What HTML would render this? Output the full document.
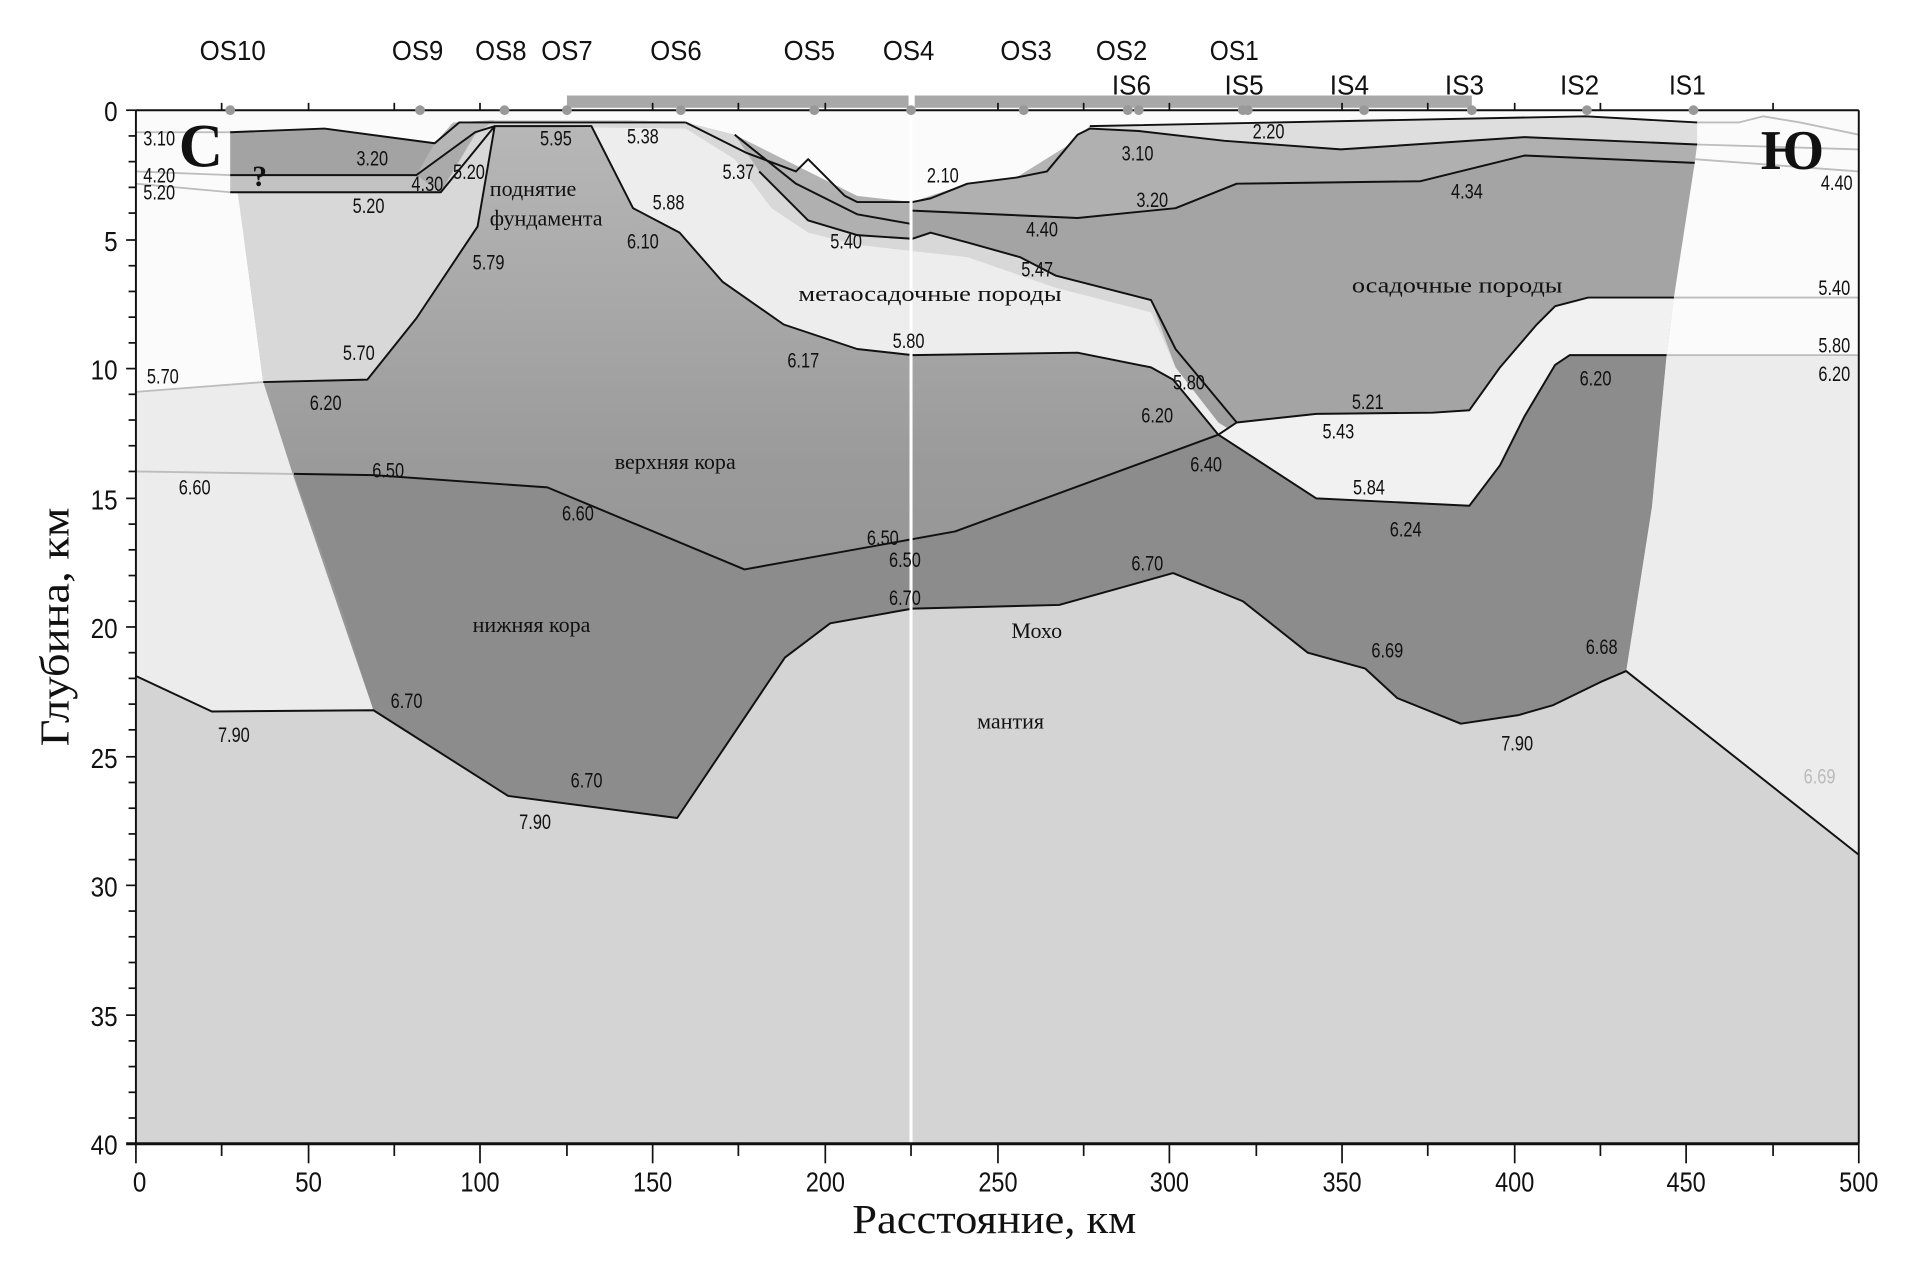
<!DOCTYPE html>
<html><head><meta charset="utf-8"><style>
html,body{margin:0;padding:0;background:#fff;}
svg{display:block;}
.n{font-family:"Liberation Sans",sans-serif;font-size:17px;fill:#111;}
.r{font-family:"Liberation Serif",serif;font-size:18px;fill:#111;}
.st{font-family:"Liberation Sans",sans-serif;font-size:23px;fill:#111;text-anchor:middle;}
.tk{font-family:"Liberation Sans",sans-serif;font-size:23px;fill:#111;}
</style></head><body>
<svg width="1920" height="1263" viewBox="0 0 1568 1031.4" preserveAspectRatio="none" xmlns="http://www.w3.org/2000/svg">
<defs>
<linearGradient id="cr" x1="0" y1="0" x2="0" y2="1">
<stop offset="0" stop-color="#b8b8b8"/><stop offset="0.5" stop-color="#9a9a9a"/><stop offset="1" stop-color="#8e8e8e"/>
</linearGradient>
</defs>
<rect x="0" y="0" width="1568" height="1031.4" fill="#fff"/>
<rect x="111" y="90" width="1407" height="844" fill="#ececec"/>
<polygon points="111,90 1518,90 1518,290 1361,290 1340,450 215,312 111,320" fill="#fbfbfb"/>
<polygon points="188,105 200,200 215,312 240,390 305,580 415,650 553,668 641,537 678,509 745,497 865,494 958,468 1015,491 1068,533 1115,546 1141,570 1193,591 1240,584 1268,576 1307,557 1328,548 1349,414 1361,290 1367,243 1386,100 1295,95 890,103 870,120 830,145 790,150 760,160 745,165 700,160 650,135 600,110 560,100 510,98 404,98 370,100 355,117 265,105 188,108" fill="url(#cr)"/>
<polygon points="240,387 305,388 447,398 608,465 780,434 995,355 1075,407 1200,413 1225,380 1245,340 1270,298 1282,290 1361,290 1349,414 1328,548 1307,557 1268,576 1240,584 1193,591 1141,570 1115,546 1068,533 1015,491 958,468 865,494 745,497 678,509 641,537 553,668 415,650 305,580 280,500" fill="#8c8c8c"/>
<polygon points="215,312 300,310 340,260 390,185 404,103 483,103 517,170 555,190 590,230 640,265 700,285 745,290 880,288 940,300 958,310 995,355 1010,345 1075,338 1170,337 1200,335 1225,300 1255,265 1270,250 1297,243 1367,243 1361,290 1282,290 1270,298 1245,340 1225,380 1200,413 1075,407 995,355 960,300 940,245 862,225 833,210 790,198 760,190 745,195 700,192 660,180 640,160 600,110 560,100 510,98 404,98 388,110 360,157 194,157 200,200" fill="#d8d8d8"/>
<polygon points="404,103 483,103 517,170 555,190 590,230 640,265 700,285 745,290 880,288 940,300 958,310 995,355 1010,345 1075,338 1170,337 1200,335 1225,300 1255,265 1270,250 1297,243 1367,243 1365,260 1297,260 1270,268 1250,290 1230,320 1210,360 1200,400 1075,395 995,345 960,300 940,255 862,235 790,210 745,205 700,200 660,190 630,170 600,130 560,105" fill="#ededed"/>
<polygon points="995,355 1010,345 1075,338 1170,337 1200,335 1225,300 1255,265 1270,250 1297,243 1367,243 1361,290 1282,290 1270,298 1245,340 1225,380 1200,413 1075,407" fill="#f1f1f1"/>
<polygon points="188,108 265,105 355,117 340,143 188,143" fill="#a3a3a3"/>
<polygon points="188,143 340,143 360,157 188,157" fill="#c2c2c2"/>
<polygon points="340,143 388,108 360,157" fill="#aaaaaa"/>
<polygon points="745,165 760,162 790,150 830,145 855,140 880,110 890,105 930,107 1000,115 1095,122 1245,112 1386,118 1384,133 1245,127 1160,148 1010,150 960,170 880,178 745,172" fill="#b0b0b0"/>
<polygon points="745,172 880,178 960,170 1010,150 1160,148 1245,127 1384,133 1367,243 1297,243 1270,250 1255,265 1225,300 1200,335 1170,337 1075,338 1010,345 960,285 940,245 862,225 833,210 790,198 760,190 745,195" fill="#a4a4a4"/>
<polygon points="890,103 1295,95 1386,100 1386,118 1245,112 1095,122 1000,115 930,107 890,105" fill="#dedede"/>
<polygon points="600,110 650,150 700,175 745,183 745,195 700,192 660,180 620,140" fill="#b0b0b0"/>
<polygon points="111,552 173,581 305,580 415,650 553,668 641,537 678,509 745,497 865,494 958,468 1015,491 1068,533 1115,546 1141,570 1193,591 1240,584 1268,576 1307,557 1328,548 1518,698 1518,934 111,934" fill="#d4d4d4"/>
<g stroke="#bdbdbd" stroke-width="1.5" fill="none">
<polyline points="111,320 215,312"/><polyline points="111,385 240,387"/>
<polyline points="1367,243 1518,243"/><polyline points="1361,290 1518,290"/>
<polyline points="1384,130 1518,140"/><polyline points="1386,118 1518,122"/>
<polyline points="1383,100 1420,100 1440,95 1470,100 1518,110"/>
<polyline points="111,108 188,108"/><polyline points="111,140 188,143"/><polyline points="111,150 188,157"/>
</g>
<g stroke="#111" stroke-width="1.6" fill="none" stroke-linejoin="round">
<polyline points="111,552 173,581 305,580 415,650 553,668 641,537 678,509 745,497 865,494 958,468 1015,491 1068,533 1115,546 1141,570 1193,591 1240,584 1268,576 1307,557 1328,548 1518,698"/>
<polyline points="240,387 305,388 447,398 608,465 780,434 995,355 1075,407 1200,413 1225,380 1245,340 1270,298 1282,290 1361,290"/>
<polyline points="215,312 300,310 340,260 390,185 404,103 483,103 517,170 555,190 590,230 640,265 700,285 745,290 880,288 940,300 958,310 995,355"/>
<polyline points="995,355 1010,345 1075,338 1170,337 1200,335 1225,300 1255,265 1270,250 1297,243 1367,243"/>
<polyline points="745,195 760,190 790,198 833,210 862,225 940,245 960,285 1010,345"/>
<polyline points="745,172 880,178 960,170 1010,150 1160,148 1245,127 1384,133"/>
<polyline points="745,165 760,162 790,150 830,145 855,140 880,110 890,105 930,107 1000,115 1095,122 1245,112 1386,118"/>
<polyline points="890,103 1295,95 1386,100"/>
<polyline points="600,110 650,150 700,175 745,183"/>
<polyline points="560,100 610,125 650,140 660,130 690,160 700,165 745,165"/>
<polyline points="620,140 660,180 700,192 745,195"/>
<polyline points="188,108 265,105 355,117 375,100 560,100"/>
<polyline points="188,143 340,143 388,108 404,103"/>
<polyline points="188,157 360,157 404,103"/>
</g>
<line x1="744" y1="90" x2="744" y2="934" stroke="#fff" stroke-width="2.5"/>
<rect x="463" y="78" width="279" height="10" fill="#a8a8a8"/>
<rect x="747" y="78" width="455" height="10" fill="#a8a8a8"/>
<g stroke="#111" stroke-width="1.6">
<line x1="111" y1="90" x2="1518" y2="90"/>
<line x1="111" y1="90" x2="111" y2="934"/>
<line x1="1518" y1="90" x2="1518" y2="934"/>
<line x1="103" y1="934" x2="1518" y2="934" stroke-width="2.5"/>
</g>
<g stroke="#111" stroke-width="1.4">
<line x1="103" y1="90" x2="111" y2="90"/><line x1="105" y1="111" x2="111" y2="111"/><line x1="105" y1="132" x2="111" y2="132"/><line x1="105" y1="153" x2="111" y2="153"/><line x1="105" y1="174" x2="111" y2="174"/>
<line x1="103" y1="196" x2="111" y2="196"/><line x1="105" y1="217" x2="111" y2="217"/><line x1="105" y1="238" x2="111" y2="238"/><line x1="105" y1="259" x2="111" y2="259"/><line x1="105" y1="280" x2="111" y2="280"/>
<line x1="103" y1="301" x2="111" y2="301"/><line x1="105" y1="322" x2="111" y2="322"/><line x1="105" y1="343" x2="111" y2="343"/><line x1="105" y1="364" x2="111" y2="364"/><line x1="105" y1="385" x2="111" y2="385"/>
<line x1="103" y1="407" x2="111" y2="407"/><line x1="105" y1="428" x2="111" y2="428"/><line x1="105" y1="449" x2="111" y2="449"/><line x1="105" y1="470" x2="111" y2="470"/><line x1="105" y1="491" x2="111" y2="491"/>
<line x1="103" y1="512" x2="111" y2="512"/><line x1="105" y1="533" x2="111" y2="533"/><line x1="105" y1="554" x2="111" y2="554"/><line x1="105" y1="575" x2="111" y2="575"/><line x1="105" y1="596" x2="111" y2="596"/>
<line x1="103" y1="618" x2="111" y2="618"/><line x1="105" y1="639" x2="111" y2="639"/><line x1="105" y1="660" x2="111" y2="660"/><line x1="105" y1="681" x2="111" y2="681"/><line x1="105" y1="702" x2="111" y2="702"/>
<line x1="103" y1="723" x2="111" y2="723"/><line x1="105" y1="744" x2="111" y2="744"/><line x1="105" y1="765" x2="111" y2="765"/><line x1="105" y1="786" x2="111" y2="786"/><line x1="105" y1="807" x2="111" y2="807"/>
<line x1="103" y1="829" x2="111" y2="829"/><line x1="105" y1="850" x2="111" y2="850"/><line x1="105" y1="871" x2="111" y2="871"/><line x1="105" y1="892" x2="111" y2="892"/><line x1="105" y1="913" x2="111" y2="913"/>
</g>
<g stroke="#111" stroke-width="1.4">
<line x1="111" y1="934" x2="111" y2="950"/><line x1="181" y1="934" x2="181" y2="944"/><line x1="252" y1="934" x2="252" y2="950"/><line x1="322" y1="934" x2="322" y2="944"/><line x1="392" y1="934" x2="392" y2="950"/><line x1="463" y1="934" x2="463" y2="944"/><line x1="533" y1="934" x2="533" y2="950"/><line x1="603" y1="934" x2="603" y2="944"/><line x1="674" y1="934" x2="674" y2="950"/><line x1="744" y1="934" x2="744" y2="944"/><line x1="815" y1="934" x2="815" y2="950"/><line x1="885" y1="934" x2="885" y2="944"/><line x1="955" y1="934" x2="955" y2="950"/><line x1="1026" y1="934" x2="1026" y2="944"/><line x1="1096" y1="934" x2="1096" y2="950"/><line x1="1166" y1="934" x2="1166" y2="944"/><line x1="1237" y1="934" x2="1237" y2="950"/><line x1="1307" y1="934" x2="1307" y2="944"/><line x1="1377" y1="934" x2="1377" y2="950"/><line x1="1448" y1="934" x2="1448" y2="944"/><line x1="1518" y1="934" x2="1518" y2="950"/>
<line x1="181" y1="90" x2="181" y2="84"/><line x1="252" y1="90" x2="252" y2="84"/><line x1="322" y1="90" x2="322" y2="84"/><line x1="392" y1="90" x2="392" y2="84"/><line x1="533" y1="90" x2="533" y2="84"/><line x1="603" y1="90" x2="603" y2="84"/><line x1="674" y1="90" x2="674" y2="84"/><line x1="815" y1="90" x2="815" y2="84"/><line x1="885" y1="90" x2="885" y2="84"/><line x1="955" y1="90" x2="955" y2="84"/><line x1="1096" y1="90" x2="1096" y2="84"/><line x1="1166" y1="90" x2="1166" y2="84"/><line x1="1237" y1="90" x2="1237" y2="84"/><line x1="1307" y1="90" x2="1307" y2="84"/><line x1="1448" y1="90" x2="1448" y2="84"/>
</g>
<g fill="#999">
<circle cx="188" cy="90" r="4"/><circle cx="343" cy="90" r="4"/><circle cx="412" cy="90" r="4"/><circle cx="463" cy="90" r="4"/><circle cx="556" cy="90" r="4"/><circle cx="665" cy="90" r="4"/><circle cx="744" cy="90" r="4"/><circle cx="836" cy="90" r="4"/><circle cx="921" cy="90" r="4"/><circle cx="930" cy="90" r="4"/><circle cx="1015" cy="90" r="4"/><circle cx="1019" cy="90" r="4"/><circle cx="1114" cy="90" r="4"/><circle cx="1202" cy="90" r="4"/><circle cx="1296" cy="90" r="4"/><circle cx="1383" cy="90" r="4"/>
</g>
<g class="st">
<text x="190" y="49" textLength="54" lengthAdjust="spacingAndGlyphs">OS10</text>
<text x="341" y="49" textLength="42" lengthAdjust="spacingAndGlyphs">OS9</text>
<text x="409" y="49" textLength="42" lengthAdjust="spacingAndGlyphs">OS8</text>
<text x="463" y="49" textLength="42" lengthAdjust="spacingAndGlyphs">OS7</text>
<text x="552" y="49" textLength="42" lengthAdjust="spacingAndGlyphs">OS6</text>
<text x="661" y="49" textLength="42" lengthAdjust="spacingAndGlyphs">OS5</text>
<text x="742" y="49" textLength="42" lengthAdjust="spacingAndGlyphs">OS4</text>
<text x="838" y="49" textLength="42" lengthAdjust="spacingAndGlyphs">OS3</text>
<text x="916" y="49" textLength="42" lengthAdjust="spacingAndGlyphs">OS2</text>
<text x="1008" y="49" textLength="40" lengthAdjust="spacingAndGlyphs">OS1</text>
<text x="924" y="77" textLength="32" lengthAdjust="spacingAndGlyphs">IS6</text>
<text x="1016" y="77" textLength="32" lengthAdjust="spacingAndGlyphs">IS5</text>
<text x="1102" y="77" textLength="32" lengthAdjust="spacingAndGlyphs">IS4</text>
<text x="1196" y="77" textLength="32" lengthAdjust="spacingAndGlyphs">IS3</text>
<text x="1290" y="77" textLength="32" lengthAdjust="spacingAndGlyphs">IS2</text>
<text x="1378" y="77" textLength="30" lengthAdjust="spacingAndGlyphs">IS1</text>
</g>
<g class="tk" text-anchor="end">
<text x="96" y="99" textLength="11" lengthAdjust="spacingAndGlyphs">0</text><text x="96" y="205" textLength="11" lengthAdjust="spacingAndGlyphs">5</text><text x="96" y="310" textLength="22" lengthAdjust="spacingAndGlyphs">10</text><text x="96" y="416" textLength="22" lengthAdjust="spacingAndGlyphs">15</text><text x="96" y="521" textLength="22" lengthAdjust="spacingAndGlyphs">20</text><text x="96" y="627" textLength="22" lengthAdjust="spacingAndGlyphs">25</text><text x="96" y="732" textLength="22" lengthAdjust="spacingAndGlyphs">30</text><text x="96" y="838" textLength="22" lengthAdjust="spacingAndGlyphs">35</text><text x="96" y="943" textLength="22" lengthAdjust="spacingAndGlyphs">40</text>
</g>
<g class="tk" text-anchor="middle">
<text x="114" y="973" textLength="11" lengthAdjust="spacingAndGlyphs">0</text><text x="252" y="973" textLength="22" lengthAdjust="spacingAndGlyphs">50</text><text x="392" y="973" textLength="32" lengthAdjust="spacingAndGlyphs">100</text><text x="533" y="973" textLength="32" lengthAdjust="spacingAndGlyphs">150</text><text x="674" y="973" textLength="32" lengthAdjust="spacingAndGlyphs">200</text><text x="815" y="973" textLength="32" lengthAdjust="spacingAndGlyphs">250</text><text x="955" y="973" textLength="32" lengthAdjust="spacingAndGlyphs">300</text><text x="1096" y="973" textLength="32" lengthAdjust="spacingAndGlyphs">350</text><text x="1237" y="973" textLength="32" lengthAdjust="spacingAndGlyphs">400</text><text x="1377" y="973" textLength="32" lengthAdjust="spacingAndGlyphs">450</text><text x="1518" y="973" textLength="32" lengthAdjust="spacingAndGlyphs">500</text>
</g>
<text x="812" y="1007" text-anchor="middle" textLength="232" lengthAdjust="spacingAndGlyphs" style="font-family:'Liberation Serif',serif;font-size:34px;fill:#111">Расстояние, км</text>
<text transform="translate(56,512) rotate(-90)" text-anchor="middle" textLength="195" lengthAdjust="spacingAndGlyphs" style="font-family:'Liberation Serif',serif;font-size:34px;fill:#111">Глубина, км</text>
<text x="146" y="136" style="font-family:'Liberation Serif',serif;font-size:50px;font-weight:bold;fill:#111">С</text>
<text x="1438" y="138" style="font-family:'Liberation Serif',serif;font-size:46px;font-weight:bold;fill:#111">Ю</text>
<text x="206" y="152" style="font-family:'Liberation Serif',serif;font-size:24px;font-weight:bold;fill:#111">?</text>
<g class="r">
<text x="400" y="160">поднятие</text><text x="400" y="184">фундамента</text>
<text x="652" y="246" textLength="215" lengthAdjust="spacingAndGlyphs">метаосадочные породы</text>
<text x="1104" y="239" textLength="172" lengthAdjust="spacingAndGlyphs">осадочные породы</text>
<text x="502" y="383">верхняя кора</text>
<text x="386" y="516">нижняя кора</text>
<text x="826" y="521">Мохо</text>
<text x="798" y="595">мантия</text>
</g>
<g class="n">
<text x="117" y="119" textLength="26" lengthAdjust="spacingAndGlyphs">3.10</text><text x="117" y="149" textLength="26" lengthAdjust="spacingAndGlyphs">4.20</text><text x="117" y="163" textLength="26" lengthAdjust="spacingAndGlyphs">5.20</text>
<text x="291" y="135" textLength="26" lengthAdjust="spacingAndGlyphs">3.20</text><text x="336" y="156" textLength="26" lengthAdjust="spacingAndGlyphs">4.30</text><text x="370" y="146" textLength="26" lengthAdjust="spacingAndGlyphs">5.20</text><text x="288" y="174" textLength="26" lengthAdjust="spacingAndGlyphs">5.20</text>
<text x="441" y="119" textLength="26" lengthAdjust="spacingAndGlyphs">5.95</text><text x="512" y="117" textLength="26" lengthAdjust="spacingAndGlyphs">5.38</text><text x="590" y="146" textLength="26" lengthAdjust="spacingAndGlyphs">5.37</text><text x="533" y="171" textLength="26" lengthAdjust="spacingAndGlyphs">5.88</text>
<text x="512" y="203" textLength="26" lengthAdjust="spacingAndGlyphs">6.10</text><text x="386" y="220" textLength="26" lengthAdjust="spacingAndGlyphs">5.79</text><text x="678" y="203" textLength="26" lengthAdjust="spacingAndGlyphs">5.40</text>
<text x="757" y="149" textLength="26" lengthAdjust="spacingAndGlyphs">2.10</text><text x="916" y="131" textLength="26" lengthAdjust="spacingAndGlyphs">3.10</text><text x="1023" y="113" textLength="26" lengthAdjust="spacingAndGlyphs">2.20</text><text x="928" y="169" textLength="26" lengthAdjust="spacingAndGlyphs">3.20</text>
<text x="1185" y="162" textLength="26" lengthAdjust="spacingAndGlyphs">4.34</text><text x="838" y="193" textLength="26" lengthAdjust="spacingAndGlyphs">4.40</text><text x="834" y="226" textLength="26" lengthAdjust="spacingAndGlyphs">5.47</text>
<text x="729" y="284" textLength="26" lengthAdjust="spacingAndGlyphs">5.80</text><text x="643" y="300" textLength="26" lengthAdjust="spacingAndGlyphs">6.17</text><text x="280" y="294" textLength="26" lengthAdjust="spacingAndGlyphs">5.70</text><text x="120" y="313" textLength="26" lengthAdjust="spacingAndGlyphs">5.70</text>
<text x="253" y="335" textLength="26" lengthAdjust="spacingAndGlyphs">6.20</text><text x="958" y="318" textLength="26" lengthAdjust="spacingAndGlyphs">5.80</text><text x="932" y="345" textLength="26" lengthAdjust="spacingAndGlyphs">6.20</text>
<text x="1104" y="334" textLength="26" lengthAdjust="spacingAndGlyphs">5.21</text><text x="1080" y="358" textLength="26" lengthAdjust="spacingAndGlyphs">5.43</text><text x="972" y="385" textLength="26" lengthAdjust="spacingAndGlyphs">6.40</text>
<text x="1105" y="404" textLength="26" lengthAdjust="spacingAndGlyphs">5.84</text><text x="1135" y="438" textLength="26" lengthAdjust="spacingAndGlyphs">6.24</text><text x="1290" y="315" textLength="26" lengthAdjust="spacingAndGlyphs">6.20</text>
<text x="1485" y="241" textLength="26" lengthAdjust="spacingAndGlyphs">5.40</text><text x="1485" y="288" textLength="26" lengthAdjust="spacingAndGlyphs">5.80</text><text x="1485" y="311" textLength="26" lengthAdjust="spacingAndGlyphs">6.20</text><text x="1487" y="155" textLength="26" lengthAdjust="spacingAndGlyphs">4.40</text>
<text x="146" y="404" textLength="26" lengthAdjust="spacingAndGlyphs">6.60</text><text x="304" y="390" textLength="26" lengthAdjust="spacingAndGlyphs">6.50</text><text x="459" y="425" textLength="26" lengthAdjust="spacingAndGlyphs">6.60</text>
<text x="708" y="445" textLength="26" lengthAdjust="spacingAndGlyphs">6.50</text><text x="726" y="463" textLength="26" lengthAdjust="spacingAndGlyphs">6.50</text><text x="726" y="494" textLength="26" lengthAdjust="spacingAndGlyphs">6.70</text><text x="924" y="466" textLength="26" lengthAdjust="spacingAndGlyphs">6.70</text>
<text x="1120" y="537" textLength="26" lengthAdjust="spacingAndGlyphs">6.69</text><text x="1295" y="534" textLength="26" lengthAdjust="spacingAndGlyphs">6.68</text>
<text x="319" y="578" textLength="26" lengthAdjust="spacingAndGlyphs">6.70</text><text x="178" y="606" textLength="26" lengthAdjust="spacingAndGlyphs">7.90</text><text x="466" y="643" textLength="26" lengthAdjust="spacingAndGlyphs">6.70</text><text x="424" y="677" textLength="26" lengthAdjust="spacingAndGlyphs">7.90</text>
<text x="1226" y="613" textLength="26" lengthAdjust="spacingAndGlyphs">7.90</text><text x="1473" y="640" textLength="26" lengthAdjust="spacingAndGlyphs" style="fill:#bbb">6.69</text>
</g>
</svg>
</body></html>
